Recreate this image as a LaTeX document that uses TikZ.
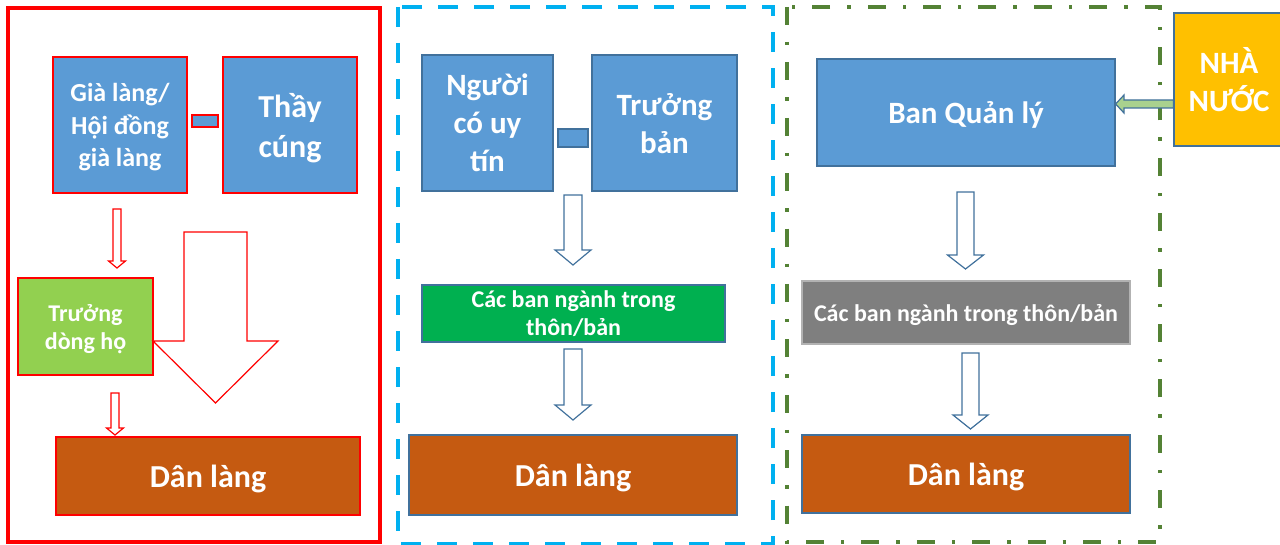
\documentclass[tikz,border=0pt]{standalone}
\usepackage{fontspec}
\setmainfont{Carlito}
\usepackage{xcolor}
\definecolor{boxblue}{HTML}{5B9BD5}
\definecolor{edgeblue}{HTML}{41719C}
\definecolor{leafgreen}{HTML}{92D050}
\definecolor{teamgreen}{HTML}{00B050}
\definecolor{villager}{HTML}{C55A11}
\definecolor{stonegrey}{HTML}{7F7F7F}
\definecolor{stategold}{HTML}{FFC000}
\definecolor{skyline}{HTML}{00B0F0}
\definecolor{oliveline}{HTML}{548235}
\definecolor{mintfill}{HTML}{A9D18E}

\begin{document}
\begin{tikzpicture}[x=0.5pt, y=-0.5pt,
  box/.style={draw=edgeblue, rectangle, inner sep=0pt, text=white, align=center, line width=0.6pt, text depth=0pt},
  big/.style={font=\bfseries\fontsize{16}{20}\selectfont},
  small/.style={font=\bfseries\fontsize{12}{14}\selectfont}]
\useasboundingbox (0,0) rectangle (1280,545);
\clip (0,0) rectangle (1280,545);

% 3 frames
\draw[red, line width=2pt] (7.5,8.5) rectangle (380,542);
\draw[skyline, line width=2pt, dash pattern=on 10pt off 8pt] (398,7) rectangle (773,544);
\draw[oliveline, line width=2pt, dash pattern=on 9pt off 8.5pt on 1.7pt off 8.5pt] (787,7) rectangle (1160,542);

% Panel 1
\node[box, draw=red, fill=boxblue, minimum width=67pt, minimum height=68pt, font=\bfseries\fontsize{13}{16.3}\selectfont] (gia) at (120,125) {Già làng/\\Hội đồng\\già làng};
\node[box, draw=red, fill=boxblue, minimum width=13pt, minimum height=6pt] (link1) at (205,121) {};
\node[box, draw=red, fill=boxblue, minimum width=67pt, minimum height=68pt, big] (thay) at (290,125) {Thầy\\cúng};
\node[box, draw=red, fill=leafgreen, minimum width=67.5pt, minimum height=48.5pt, small] (dongho) at (85.5,326.5) {Trưởng\\dòng họ};
\node[box, draw=red, fill=villager, minimum width=152pt, minimum height=39pt, big] (dan1) at (208,476) {Dân làng};

% Panel 2
\node[box, fill=boxblue, minimum width=65.5pt, minimum height=68pt, font=\bfseries\fontsize{15.5}{19}\selectfont] (uytin) at (487.5,123) {Người\\có uy\\tín};
\node[box, fill=boxblue, minimum width=15pt, minimum height=9pt] (link2) at (573,138) {};
\node[box, fill=boxblue, minimum width=72.5pt, minimum height=68pt, font=\bfseries\fontsize{15.5}{19}\selectfont] (truongban) at (664.5,123) {Trưởng\\bản};
\node[box, fill=teamgreen, minimum width=151.5pt, minimum height=28.5pt, small] (nganh2) at (573.5,313.5) {Các ban ngành trong\\thôn/bản};
\node[box, fill=villager, minimum width=164pt, minimum height=40pt, big] (dan2) at (573,475) {Dân làng};

% Panel 3
\node[box, fill=boxblue, minimum width=149pt, minimum height=53.5pt, font=\bfseries\fontsize{15.5}{19}\selectfont] (bql) at (966,112.5) {Ban Quản lý};
\node[box, fill=stonegrey, draw=stonegrey!60, minimum width=164pt, minimum height=31.5pt, small] (nganh3) at (966,312.5) {Các ban ngành trong thôn/bản};
\node[box, fill=villager, minimum width=164pt, minimum height=39pt, big] (dan3) at (966,474) {Dân làng};
\node[box, fill=stategold, minimum width=55pt, minimum height=66.5pt, text depth=, font=\bfseries\fontsize{15.5}{19}\selectfont] (nn) at (1229,79.5) {NHÀ\\NƯỚC};

% Block arrows down
\foreach \cx/\ya/\yb/\yc/\sw/\hw/\col in {117/209/261/268/4/8.5/red, 115/393/428/435/4/8.5/red,
    215.5/232/341/403/31.5/62.5/red, 573/195/250/265/9/18/edgeblue, 573/349/405/420/9/18/edgeblue,
    965.5/192/255/269/8.5/18/edgeblue, 970.5/353/415/429/8.5/17.5/edgeblue}
  \draw[draw=\col, fill=white, line width=0.6pt, line join=miter] (\cx-\sw,\ya) -- (\cx+\sw,\ya) -- (\cx+\sw,\yb) -- (\cx+\hw,\yb)
    -- (\cx,\yc) -- (\cx-\hw,\yb) -- (\cx-\sw,\yb) -- cycle;

% Arrow from state to board
\draw[fill=mintfill, draw=edgeblue, line width=0.6pt] (nn.west |- 0,100) -- (1124,100) -- (1124,95) -- (bql.east |- 0,104)
  -- (1124,113) -- (1124,108) -- (nn.west |- 0,108) -- cycle;
\end{tikzpicture}
\end{document}
